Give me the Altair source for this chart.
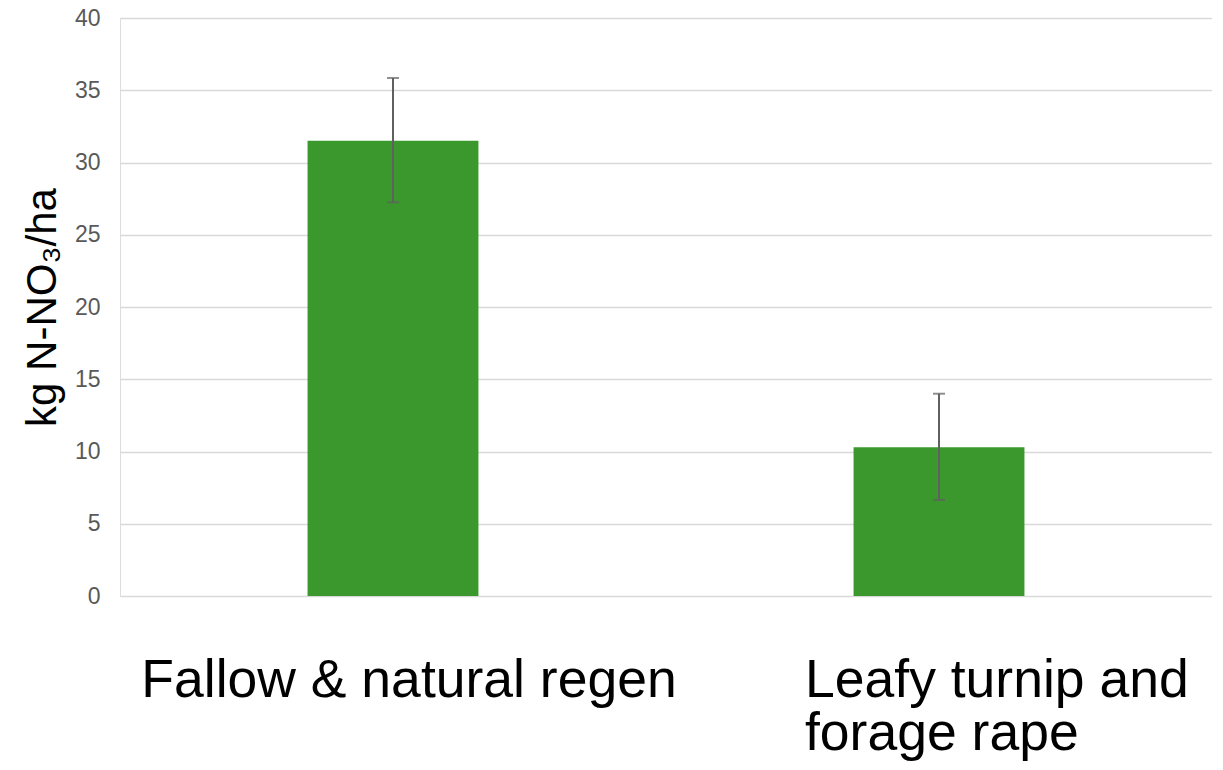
import altair as alt
import pandas as pd

categories = ["Fallow & natural regen", "Leafy turnip and forage rape"]
label_lines = ["Fallow & natural regen", "Leafy turnip and\nforage rape"]
means = [31.5, 10.3]
err_low = [27.25, 6.65]
err_high = [35.85, 14.0]

df = pd.DataFrame({
    "cat": categories,
    "label": label_lines,
    "mean": means,
    "lo": err_low,
    "hi": err_high,
})

FONT = "Liberation Sans"

x_enc = alt.X("cat:N", sort=categories,
              scale=alt.Scale(paddingInner=0.687, paddingOuter=0.3435),
              axis=None)

y_scale = alt.Scale(domain=[0, 40])

bars = alt.Chart(df).mark_bar(color="#3a982c").encode(
    x=x_enc,
    y=alt.Y("mean:Q", scale=y_scale,
            axis=alt.Axis(values=[0, 5, 10, 15, 20, 25, 30, 35, 40],
                          title="kg N-NO₃/ha", titleFontSize=42,
                          titleFont=FONT, titleColor="#000000",
                          titleFontWeight="normal", titlePadding=10,
                          labelFont=FONT, labelFontSize=23,
                          labelColor="#595959", labelPadding=20,
                          ticks=False, domain=False,
                          gridColor="#d9d9d9", gridWidth=1.5)),
)

rule = alt.Chart(df).mark_rule(color="#606060", strokeWidth=2).encode(
    x=x_enc,
    y=alt.Y("lo:Q", scale=y_scale),
    y2="hi:Q",
)

cap_lo = alt.Chart(df).mark_tick(color="#606060", size=12, thickness=2,
                                 orient="horizontal").encode(
    x=x_enc, y=alt.Y("lo:Q", scale=y_scale))
cap_hi = alt.Chart(df).mark_tick(color="#606060", size=12, thickness=2,
                                 orient="horizontal").encode(
    x=x_enc, y=alt.Y("hi:Q", scale=y_scale))

lab1 = alt.Chart(df).transform_filter(
    alt.datum.cat == categories[0]
).mark_text(font=FONT, fontSize=53.5, color="#000000", align="center",
            baseline="alphabetic", dx=16).encode(
    x=x_enc, y=alt.value(679), text="label:N")

lab2 = alt.Chart(df).transform_filter(
    alt.datum.cat == categories[1]
).mark_text(font=FONT, fontSize=53.5, color="#000000", align="left",
            baseline="alphabetic", dx=-134, lineBreak="\n",
            lineHeight=53).encode(
    x=x_enc, y=alt.value(679), text="label:N")

chart = alt.layer(bars, rule, cap_lo, cap_hi, lab1, lab2).properties(
    width=1092, height=578,
    autosize=alt.AutoSizeParams(type="none"),
    padding={"left": 112, "top": 10, "right": 0, "bottom": 166},
).configure_view(stroke=None).configure(background="white")

chart.save("out.html", embed_options={"renderer": "svg", "actions": False})
